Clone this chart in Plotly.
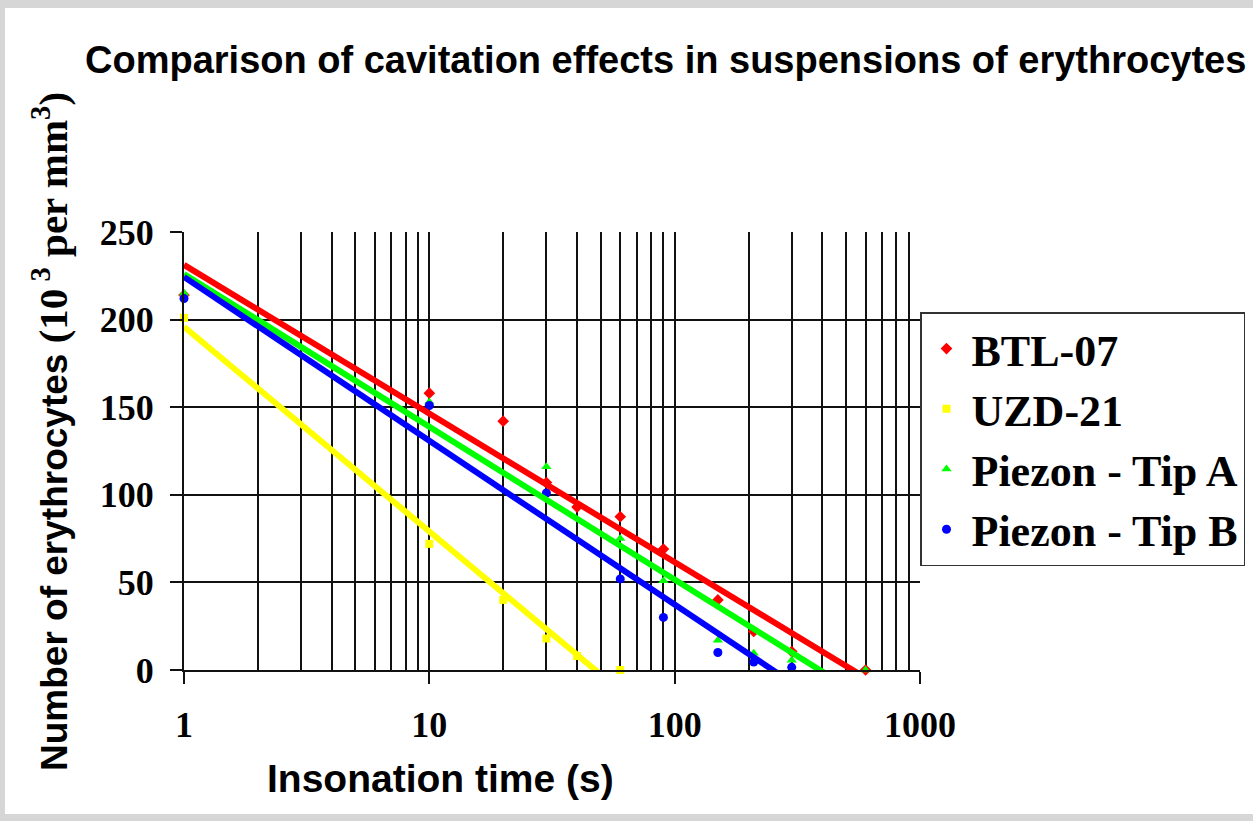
import numpy as np
import plotly.graph_objects as go

# ---- data ----
times = [1, 10, 20, 30, 40, 60, 90, 150, 210, 300, 600]
btl07 = [214, 158, 142, 107, 93, 87.5, 69, 40, 22, 10.5, 0]
uzd21 = [201, 72, 40, 18, 8, 0, None, None, None, None, None]
tip_a = [215, 153, None, 116, None, 75, 51, 17, 9.5, 5.5, 0]
tip_b = [212, 151, None, 101, None, 52, 30, 10, 4.5, 1.5, None]

series_names = ["BTL-07", "UZD-21", "Piezon - Tip A", "Piezon - Tip B"]
series_values = [btl07, uzd21, tip_a, tip_b]
series_colors = ["#ff0000", "#ffff00", "#00ff00", "#0000ff"]
series_symbols = ["diamond", "square", "triangle-up", "circle"]
series_sizes = [9, 8, 9, 9]

y_ticks = [0, 50, 100, 150, 200, 250]
x_ticks = [1, 10, 100, 1000]

# ---- geometry ----
W, H = 1253, 821
L, R, T, B = 184, 333, 232, 151
PW, PH = W - L - R, H - T - B


def px_to_paper_x(px):
    return (px - L) / PW


def px_to_paper_y(py):
    return (H - B - py) / PH


fig = go.Figure()

# markers
for name, vals, col, sym, sz in zip(series_names, series_values, series_colors,
                                    series_symbols, series_sizes):
    xs = [t for t, v in zip(times, vals) if v is not None]
    ys = [v for v in vals if v is not None]
    fig.add_trace(go.Scatter(
        x=xs, y=ys, mode="markers", name=name,
        marker=dict(symbol=sym, size=sz, color=col, line=dict(width=0)),
        cliponaxis=False, showlegend=True,
    ))

# logarithmic trendlines (least-squares fit, as the spreadsheet does)
for name, vals, col in zip(series_names, series_values, series_colors):
    xs = np.array([t for t, v in zip(times, vals) if v is not None], dtype=float)
    ys = np.array([v for v in vals if v is not None], dtype=float)
    slope, intercept = np.polyfit(np.log10(xs), ys, 1)
    lx = np.array([xs.min(), xs.max()])
    ly = intercept + slope * np.log10(lx)
    fig.add_trace(go.Scatter(
        x=lx, y=ly, mode="lines", line=dict(color=col, width=6),
        showlegend=False, hoverinfo="skip",
    ))

grid_col = "#111111"

fig.update_layout(
    width=W, height=H,
    margin=dict(l=L, r=R, t=T, b=B, autoexpand=False),
    paper_bgcolor="#d6d6d6",
    plot_bgcolor="white",
    title=dict(
        text="Comparison of cavitation effects in suspensions of erythrocytes",
        font=dict(family="Liberation Sans", size=38, color="black", weight="bold"),
        x=85 / W, xanchor="left", xref="container",
        y=1 - 60 / H, yanchor="middle", yref="container",
    ),
    xaxis=dict(
        type="log", range=[0, 3],
        tickvals=x_ticks, ticktext=[str(v) for v in x_ticks],
        ticks="outside", ticklen=12, tickwidth=2, tickcolor=grid_col,
        tickfont=dict(family="Liberation Serif", size=36, color="black", weight="bold"),
        ticklabelstandoff=10,
        showgrid=True, gridcolor=grid_col, gridwidth=2,
        minor=dict(dtick="D1", showgrid=True, gridcolor=grid_col, gridwidth=2, ticks=""),
        showline=True, linecolor=grid_col, linewidth=2,
        zeroline=False,
    ),
    yaxis=dict(
        range=[0, 250], tickvals=y_ticks,
        ticks="outside", ticklen=12, tickwidth=2, tickcolor=grid_col,
        tickfont=dict(family="Liberation Serif", size=36, color="black", weight="bold"),
        ticklabelstandoff=9,
        showgrid=True, gridcolor=grid_col, gridwidth=2,
        showline=True, linecolor=grid_col, linewidth=2,
        zeroline=False,
    ),
    legend=dict(
        x=1.0, xanchor="left", y=px_to_paper_y(312), yanchor="top",
        bgcolor="white", bordercolor="#333333", borderwidth=1.5,
        font=dict(family="Liberation Serif", size=44, color="black", weight="bold"),
        itemwidth=40, tracegroupgap=0,
    ),
    showlegend=True,
    shapes=[dict(
        type="rect", xref="paper", yref="paper", layer="below",
        x0=px_to_paper_x(5), x1=px_to_paper_x(W + 20),
        y0=px_to_paper_y(814), y1=px_to_paper_y(8),
        fillcolor="white", line=dict(width=0),
    )],
    annotations=[
        dict(
            text="Insonation time (s)", showarrow=False,
            xref="paper", yref="paper",
            x=px_to_paper_x(440), y=px_to_paper_y(778),
            xanchor="center", yanchor="middle",
            font=dict(family="Liberation Sans", size=39, color="black", weight="bold"),
        ),
        dict(
            text=("Number of erythrocytes "
                  "<span style='font-family:Liberation Serif;font-size:41px'>"
                  "(10<sup> 3</sup> per mm<sup>3</sup>)</span>"),
            showarrow=False, textangle=-90,
            xref="paper", yref="paper",
            x=px_to_paper_x(50), y=px_to_paper_y(432),
            xanchor="center", yanchor="middle",
            font=dict(family="Liberation Sans", size=37, color="black", weight="bold"),
        ),
    ],
)

fig.write_html(
    "out.html",
    config={"displayModeBar": False},
    post_script="document.body.style.margin='0px';document.body.style.overflow='hidden';",
)
